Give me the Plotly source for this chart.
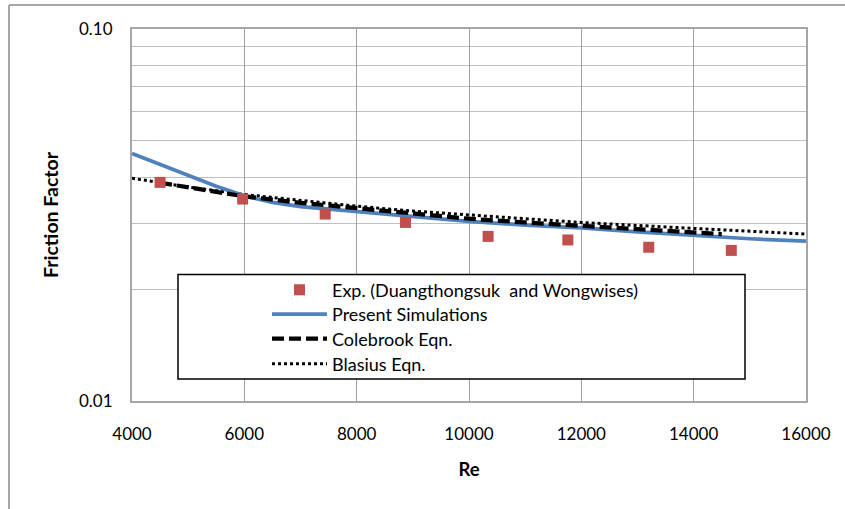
import plotly.graph_objects as go

# Measured friction factor (Duangthongsuk and Wongwises)
exp_re = [4500, 5970, 7440, 8870, 10340, 11760, 13200, 14670]
exp_f = [0.0387, 0.0349, 0.0318, 0.0302, 0.0277, 0.0271, 0.0259, 0.0254]

# Present CFD simulations
sim_re = [4000, 4500, 5000, 5500, 6000, 6500, 7000, 7500, 8000, 9000,
          10000, 11000, 12000, 13000, 14000, 15000, 16000]
sim_f = [0.0463, 0.0432, 0.0404, 0.0378, 0.0356, 0.0342, 0.0333, 0.0328,
         0.0324, 0.0314, 0.0304, 0.0297, 0.0292, 0.0285, 0.0279, 0.0273,
         0.0269]

# Colebrook equation (smooth pipe)
cole_re = [4500, 5000, 6000, 7000, 8000, 9000, 10000, 11000, 12000,
           13000, 14000, 14500]
cole_f = [0.0386, 0.0375, 0.0355, 0.0341, 0.0330, 0.0319, 0.0309,
          0.0302, 0.0296, 0.0289, 0.0283, 0.0281]

# Blasius equation
bla_re = [4000, 5000, 6000, 7000, 8000, 9000, 10000, 11000, 12000,
          13000, 14000, 15000, 16000]
bla_f = [0.0397, 0.0376, 0.0359, 0.0346, 0.0334, 0.0324, 0.0316,
         0.0309, 0.0302, 0.0296, 0.0291, 0.0286, 0.0281]

x_ticks = [4000, 6000, 8000, 10000, 12000, 14000, 16000]
x_tick_text = ["4000", "6000", "8000", "10000", "12000", "14000", "16000"]
y_ticks = [0.01, 0.1]
y_tick_text = ["0.01", "0.10"]
y_minor = [0.02, 0.03, 0.04, 0.05, 0.06, 0.07, 0.08, 0.09]

FONT = "Lato, Carlito, Calibri, sans-serif"
W, H = 845, 509
L, R, T, B = 132, 39, 29, 108
PW, PH = W - L - R, H - T - B


def px(xp):
    return (xp - L) / PW


def py(yp):
    return (H - B - yp) / PH


fig = go.Figure()
fig.add_trace(go.Scatter(
    x=bla_re, y=bla_f, mode="lines", name="Blasius Eqn.",
    line=dict(color="black", width=3, dash="3px,3px"), legend="legend4"))
fig.add_trace(go.Scatter(
    x=sim_re, y=sim_f, mode="lines", name="Present Simulations",
    line=dict(color="#4f81bd", width=3.75), legend="legend2"))
fig.add_trace(go.Scatter(
    x=cole_re, y=cole_f, mode="lines", name="Colebrook Eqn.",
    line=dict(color="black", width=4.25, dash="12px,5px"),
    legend="legend3"))
fig.add_trace(go.Scatter(
    x=exp_re, y=exp_f, mode="markers",
    name="Exp. (Duangthongsuk&nbsp; and Wongwises)",
    marker=dict(symbol="square", size=11, color="#c0504d"), legend="legend"))

shapes = [
    # legend frame
    dict(type="rect", xref="paper", yref="paper",
         x0=px(178), x1=px(745), y0=py(379), y1=py(274.5),
         line=dict(color="black", width=1.5), fillcolor="white",
         layer="above"),
    # outer chart border (top and left)
    dict(type="line", xref="paper", yref="paper",
         x0=px(9), x1=px(850), y0=py(5), y1=py(5),
         line=dict(color="#a6a6a6", width=2)),
    dict(type="line", xref="paper", yref="paper",
         x0=px(9), x1=px(9), y0=py(5), y1=py(515),
         line=dict(color="#a6a6a6", width=2)),
]


def legend_row(y_center):
    return dict(
        x=px(267), y=py(y_center), xanchor="left", yanchor="middle",
        bgcolor="rgba(0,0,0,0)", borderwidth=0,
        font=dict(family=FONT, size=18, color="black"), itemwidth=55,
    )


fig.update_layout(
    width=W, height=H,
    margin=dict(l=L, r=R, t=T, b=B, pad=0),
    paper_bgcolor="white", plot_bgcolor="white",
    font=dict(family=FONT, size=17, color="black"),
    showlegend=True,
    legend=legend_row(290),
    legend2=legend_row(314.5),
    legend3=legend_row(339),
    legend4=legend_row(364),
    shapes=shapes,
    xaxis=dict(
        range=[4000, 16000], tickvals=x_ticks, ticktext=x_tick_text,
        showgrid=True, gridcolor="#a0a0a0", gridwidth=1,
        showline=True, linecolor="#a6a6a6", linewidth=2, mirror=True,
        ticks="", ticklabelstandoff=17, zeroline=False,
        tickfont=dict(family=FONT, size=17),
        title=dict(text="<b>Re</b>", font=dict(family=FONT, size=18.5),
                   standoff=20),
    ),
    yaxis=dict(
        type="log", range=[-2, -1], tickvals=y_ticks, ticktext=y_tick_text,
        showgrid=True, gridcolor="#bfbfbf", gridwidth=1,
        minor=dict(tickvals=y_minor, showgrid=True, gridcolor="#bfbfbf",
                   gridwidth=1, ticks=""),
        showline=True, linecolor="#a6a6a6", linewidth=2, mirror=True,
        ticks="", ticklabelstandoff=14, zeroline=False,
        tickfont=dict(family=FONT, size=17),
        title=dict(text="<b>Friction Factor</b>",
                   font=dict(family=FONT, size=19.5), standoff=15),
    ),
)

fig.write_html("out.html")
